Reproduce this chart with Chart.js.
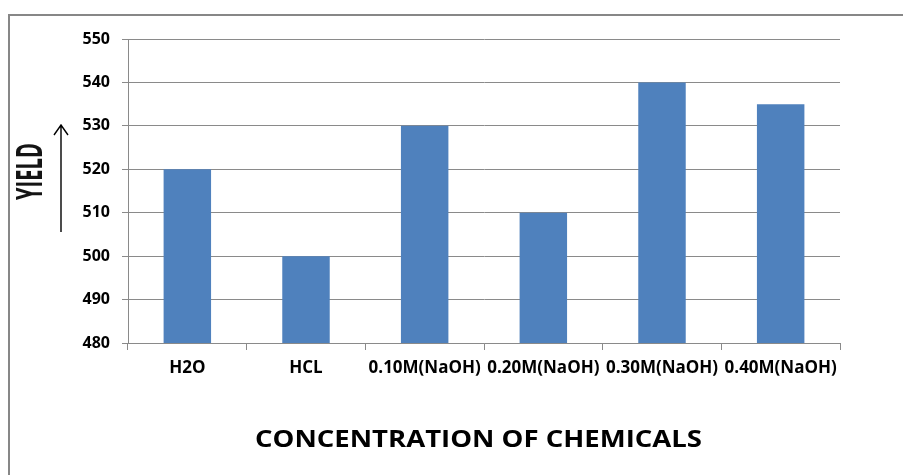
<!DOCTYPE html>
<html>
<head>
<meta charset="utf-8">
<script src="https://cdn.jsdelivr.net/npm/chart.js@4.4.1/dist/chart.umd.min.js"></script>
<style>
  html, body { margin: 0; padding: 0; background: #fff; }
  canvas { display: block; }
</style>
</head>
<body>
<canvas id="chart" width="903" height="475"></canvas>
<script>
// Yield by chemical treatment
const categories = ['H2O', 'HCL', '0.10M(NaOH)', '0.20M(NaOH)', '0.30M(NaOH)', '0.40M(NaOH)'];
const yieldValues = [520, 500, 530, 510, 540, 535];
const yAxisMin = 480;
const yAxisMax = 550;
const yAxisStep = 10;
const xAxisTitle = 'CONCENTRATION OF CHEMICALS';
const yAxisTitle = 'YIELD';

const FONT = "'Open Sans', 'DejaVu Sans', sans-serif";
const GRID = '#8a8a8a';

// Frame, rotated axis caption with arrow, and bottom caption
const decorations = {
  id: 'decorations',
  beforeDraw(chart) {
    const ctx = chart.ctx;
    ctx.save();
    ctx.fillStyle = '#ffffff';
    ctx.fillRect(0, 0, chart.width, chart.height);
    ctx.restore();
  },
  afterDraw(chart) {
    const ctx = chart.ctx;
    ctx.save();

    // outer frame (top and left edges visible)
    ctx.strokeStyle = '#878787';
    ctx.lineWidth = 2;
    ctx.beginPath();
    ctx.moveTo(9, chart.height + 2);
    ctx.lineTo(9, 15);
    ctx.lineTo(chart.width + 2, 15);
    ctx.stroke();

    // vertical caption, condensed bold
    ctx.save();
    ctx.translate(30.5, 171.5);
    ctx.rotate(-Math.PI / 2);
    ctx.font = 'bold 36px ' + FONT;
    const w = ctx.measureText(yAxisTitle).width;
    ctx.scale(57 / w, 1);
    ctx.fillStyle = '#141414';
    ctx.textAlign = 'center';
    ctx.textBaseline = 'middle';
    ctx.fillText(yAxisTitle, 0, 1);
    ctx.restore();

    // upward arrow beside the caption
    ctx.strokeStyle = '#000';
    ctx.lineWidth = 1.4;
    ctx.beginPath();
    ctx.moveTo(61, 232);
    ctx.lineTo(61, 125);
    ctx.moveTo(54, 135);
    ctx.lineTo(61, 125);
    ctx.lineTo(68, 135);
    ctx.stroke();

    // bottom caption
    ctx.save();
    ctx.font = 'bold 24px ' + FONT;
    const tw = ctx.measureText(xAxisTitle).width;
    ctx.translate(478.5, 440);
    ctx.scale(447 / tw, 1);
    ctx.fillStyle = '#000';
    ctx.textAlign = 'center';
    ctx.textBaseline = 'middle';
    ctx.fillText(xAxisTitle, 0, 0);
    ctx.restore();

    ctx.restore();
  }
};

new Chart(document.getElementById('chart'), {
  type: 'bar',
  data: {
    labels: categories,
    datasets: [{
      label: yAxisTitle,
      data: yieldValues,
      backgroundColor: '#4F81BD',
      borderWidth: 0,
      barPercentage: 0.4,
      categoryPercentage: 1.0
    }]
  },
  options: {
    responsive: false,
    devicePixelRatio: 1,
    animation: false,
    layout: { padding: { left: 0, top: 39, right: 63, bottom: 0 } },
    plugins: {
      legend: { display: false },
      tooltip: { enabled: false }
    },
    scales: {
      y: {
        min: yAxisMin,
        max: yAxisMax,
        afterFit(scale) { scale.width = 128; },
        ticks: {
          stepSize: yAxisStep,
          color: '#000',
          padding: 12,
          font: { family: FONT, size: 16, weight: 'bold' }
        },
        grid: { color: GRID, tickLength: 6, tickColor: GRID, lineWidth: 1 },
        border: { color: GRID, width: 1 }
      },
      x: {
        offset: true,
        afterFit(scale) { scale.height = 132; },
        ticks: {
          color: '#000',
          padding: 8,
          maxRotation: 0,
          autoSkip: false,
          font: { family: FONT, size: 17, weight: 'bold' }
        },
        grid: { drawOnChartArea: false, offset: true, tickLength: 7, tickColor: GRID, color: GRID },
        border: { color: GRID, width: 1 }
      }
    }
  },
  plugins: [decorations]
});
</script>
</body>
</html>
